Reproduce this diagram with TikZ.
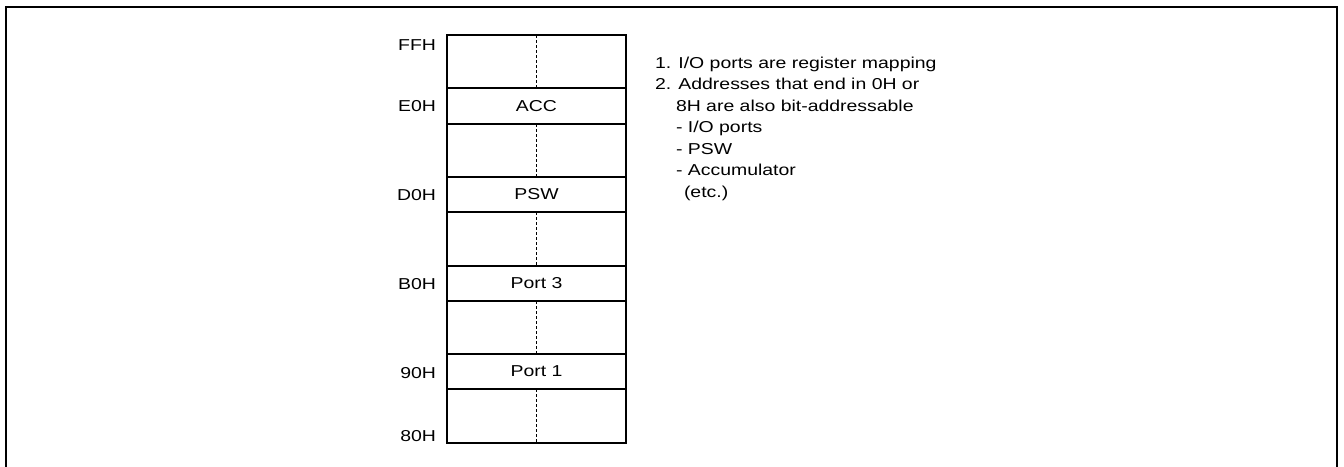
\documentclass[tikz,border=0pt]{standalone}
\usepackage{fontspec}
\setmainfont[FakeStretch=1.23]{Liberation Sans}
\begin{document}
\begin{tikzpicture}[x=1pt,y=-1pt,
  every node/.style={font=\fontsize{15.8}{21.5}\selectfont, inner sep=0pt, outer sep=0pt},
  cell/.style={draw, line width=1.3pt, minimum width=179pt, anchor=north west},
  sep/.style={line width=1.3pt, dash pattern=on 3pt off 2pt},
  addr/.style={anchor=base east},
  note/.style={anchor=base west},
  frame/.style={line width=2pt}]
\useasboundingbox (0,0) rectangle (1344,466);
% outer frame (bottom cut off)
\draw[frame] (6,480) -- (6,6.5) -- (1337,6.5) -- (1337,480);
% memory map rows
\node[cell, minimum height=53pt] (r1) at (447,35) {};
\node[cell, minimum height=36pt] (acc) at (447,88) {};
\node[cell, minimum height=53pt] (r3) at (447,124) {};
\node[cell, minimum height=35pt] (psw) at (447,177) {};
\node[cell, minimum height=54pt] (r5) at (447,212) {};
\node[cell, minimum height=35pt] (p3) at (447,266) {};
\node[cell, minimum height=53pt] (r7) at (447,301) {};
\node[cell, minimum height=35pt] (p1) at (447,354) {};
\node[cell, minimum height=54pt] (r9) at (447,389) {};
\node (accl) at (acc.center) {ACC};
\node (pswl) at (psw.center) {PSW};
\node (p3l) at (p3.center) {Port 3};
\node (p1l) at (p1.center) {Port 1};
\draw[sep] (r1.north) -- (r1.south);
\draw[sep] (r3.north) -- (r3.south);
\draw[sep] (r5.north) -- (r5.south);
\draw[sep] (r7.north) -- (r7.south);
\draw[sep] (r9.north) -- (r9.south);
% addresses
\node[addr] (aFF) at (436,50.7) {FFH};
\node[addr] (aE0) at (436,111.7) {E0H};
\node[addr] (aD0) at (436,200.7) {D0H};
\node[addr] (aB0) at (436,289.3) {B0H};
\node[addr] (a90) at (436,378.3) {90H};
\node[addr] (a80) at (436,441.5) {80H};
% notes
\node[note] (t1) at (655,68) {1. I/O ports are register mapping};
\node[note] (t2) at (655,89.5) {2. Addresses that end in 0H or};
\node[note] (t3) at (676,111) {8H are also bit-addressable};
\node[note] (t4) at (676,132.5) {- I/O ports};
\node[note] (t5) at (676,154) {- PSW};
\node[note] (t6) at (676,175.5) {- Accumulator};
\node[note] (t7) at (684,197) {(etc.)};
\end{tikzpicture}
\end{document}
